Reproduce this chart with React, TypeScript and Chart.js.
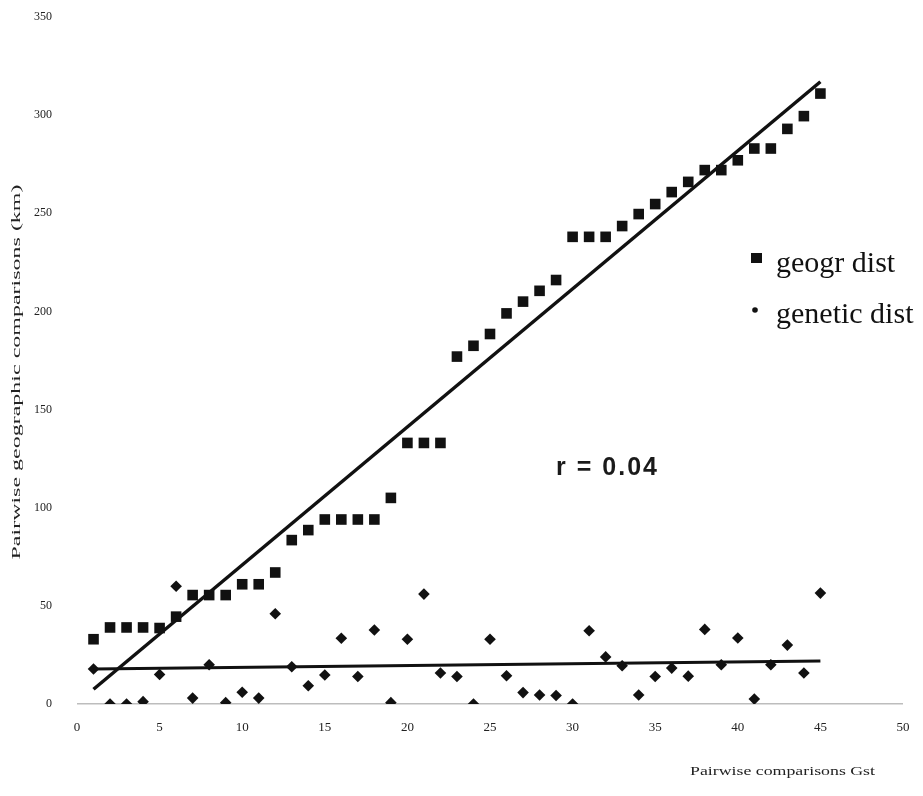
import React, { useEffect, useRef } from "react";
import { Chart, registerables } from "chart.js";

Chart.register(...registerables);

const comparisons = [1, 2, 3, 4, 5, 6, 7, 8, 9, 10, 11, 12, 13, 14, 15, 16, 17, 18, 19, 20, 21, 22, 23, 24, 25, 26, 27, 28, 29, 30, 31, 32, 33, 34, 35, 36, 37, 38, 39, 40, 41, 42, 43, 44, 45];
const geogrDist = [33, 39, 39, 39, 38.7, 44.5, 55.5, 55.5, 55.5, 61, 61, 67, 83.5, 88.6, 94, 94, 94, 94, 105, 133, 133, 133, 177, 182.5, 188.5, 199, 205, 210.5, 216, 238, 238, 238, 243.5, 249.6, 254.7, 260.8, 266, 272, 272, 277, 283, 283, 293, 299.5, 311];
const geneticDist = [17.8, 0, 0, 1.2, 15, 60, 3, 20, 0.7, 6, 3, 46, 19, 9.3, 14.8, 33.5, 14, 37.7, 0.7, 33, 56, 15.8, 14, 0, 33, 14.4, 5.8, 4.6, 4.3, 0, 37.3, 24, 19.5, 4.6, 14, 18.3, 14.2, 38, 20, 33.6, 2.5, 20, 30, 15.8, 56.5];
const trendX = [1, 45];
const geogrTrend = [7.5, 317];
const geneticTrend = [17.8, 21.9];
const xTicks = [0, 5, 10, 15, 20, 25, 30, 35, 40, 45, 50];
const yTicks = [0, 50, 100, 150, 200, 250, 300, 350];
const legendLabels = ["geogr dist", "genetic dist"];
const rLabel = "r = 0.04";
const xTitle = "Pairwise comparisons Gst";
const yTitle = "Pairwise geographic comparisons (km)";

const serif = "'Liberation Serif', 'DejaVu Serif', serif";

const textPlugin = {
  id: "textPlugin",
  afterDraw(chart: any) {
    const ctx = chart.ctx;
    const xs = chart.scales.x;
    const ys = chart.scales.y;
    ctx.save();
    ctx.fillStyle = "#111";
    // legend
    ctx.fillRect(751, 253, 11, 10);
    ctx.beginPath();
    ctx.arc(755, 310, 2.8, 0, Math.PI * 2);
    ctx.fill();
    ctx.font = `30px ${serif}`;
    ctx.textAlign = "left";
    ctx.textBaseline = "alphabetic";
    ctx.fillText(legendLabels[0], 776, 272);
    ctx.fillText(legendLabels[1], 776, 323);
    // r label
    ctx.font = `bold 25px 'Liberation Sans', Arial, sans-serif`;
    (ctx as any).letterSpacing = "2px";
    ctx.textBaseline = "middle";
    ctx.fillStyle = "#1a1a1a";
    ctx.fillText(rLabel, xs.getPixelForValue(29.0), ys.getPixelForValue(120));
    (ctx as any).letterSpacing = "0px";
    // x title
    ctx.fillStyle = "#222";
    ctx.font = `13px ${serif}`;
    let w = ctx.measureText(xTitle).width;
    ctx.save();
    ctx.translate(690, 772);
    ctx.scale(185 / w, 1);
    ctx.textAlign = "left";
    ctx.fillText(xTitle, 0, 0);
    ctx.restore();
    // y title
    ctx.font = `13px ${serif}`;
    w = ctx.measureText(yTitle).width;
    ctx.save();
    ctx.translate(17, 372);
    ctx.rotate(-Math.PI / 2);
    ctx.scale(375 / w, 1);
    ctx.textAlign = "center";
    ctx.fillText(yTitle, 0, 0);
    ctx.restore();
    ctx.restore();
  },
};

export default function App() {
  const ref = useRef<HTMLCanvasElement>(null);
  useEffect(() => {
    if (!ref.current) return;
    const chart = new Chart(ref.current, {
      type: "scatter",
      data: {
        datasets: [
          {
            type: "line",
            label: "geogr trend",
            data: trendX.map((x, i) => ({ x, y: geogrTrend[i] })),
            borderColor: "#111",
            borderWidth: 3.5,
            pointRadius: 0,
            fill: false,
            order: 0,
          },
          {
            type: "line",
            label: "genetic trend",
            data: trendX.map((x, i) => ({ x, y: geneticTrend[i] })),
            borderColor: "#111",
            borderWidth: 3,
            pointRadius: 0,
            fill: false,
            order: 1,
          },
          {
            label: legendLabels[0],
            data: comparisons.map((x, i) => ({ x, y: geogrDist[i] })),
            pointStyle: "rect",
            pointRadius: 7.5,
            backgroundColor: "#111",
            borderColor: "#111",
            borderWidth: 0,
            order: 2,
          },
          {
            label: legendLabels[1],
            data: comparisons.map((x, i) => ({ x, y: geneticDist[i] })),
            pointStyle: "rectRot",
            pointRadius: 5.8,
            backgroundColor: "#111",
            borderColor: "#111",
            borderWidth: 0,
            order: 3,
          },
        ],
      },
      options: {
        animation: false,
        responsive: false,
        layout: { padding: { left: 0, top: 17, right: 20, bottom: 0 } },
        plugins: { legend: { display: false }, tooltip: { enabled: false } },
        scales: {
          x: {
            type: "linear",
            min: 0,
            max: 50,
            afterFit: (s: any) => { s.height = 92; s.paddingLeft = 0; s.paddingRight = 0; },
            afterBuildTicks: (s: any) => { s.ticks = xTicks.map((v) => ({ value: v })); },
            border: { display: false },
            grid: { display: false, drawTicks: false },
            ticks: { padding: 16, color: "#222", font: { family: serif, size: 13 }, maxRotation: 0 },
          },
          y: {
            type: "linear",
            min: 0,
            max: 350,
            afterFit: (s: any) => { s.width = 77; s.paddingTop = 0; s.paddingBottom = 0; },
            afterBuildTicks: (s: any) => { s.ticks = yTicks.map((v) => ({ value: v })); },
            border: { display: false },
            grid: {
              drawTicks: false,
              lineWidth: 1.5,
              color: (c: any) => (c.tick && c.tick.value === 0 ? "#bdbdbd" : "rgba(0,0,0,0)"),
            },
            ticks: { padding: 25, color: "#222", font: { family: serif, size: 12 } },
          },
        },
      },
      plugins: [textPlugin],
    });
    return () => chart.destroy();
  }, []);
  return (
    <div style={{ position: "fixed", left: 0, top: 0, width: 923, height: 796, background: "#fff" }}>
      <canvas ref={ref} width={923} height={796} />
    </div>
  );
}
